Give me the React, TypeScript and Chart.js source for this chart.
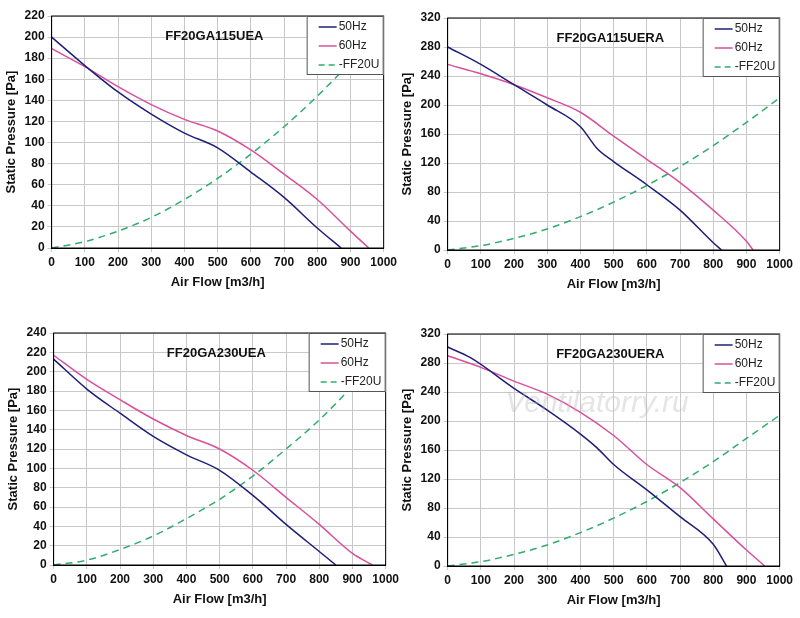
import React, { useEffect, useRef } from "react";
import { Chart, registerables } from "chart.js";
Chart.register(...registerables);

const flowTicks = [0, 100, 200, 300, 400, 500, 600, 700, 800, 900, 1000];
const legendLabels = ["50Hz", "60Hz", "-FF20U"];

const p1Title = "FF20GA115UEA";
const p1x50 = [0, 100, 200, 300, 400, 500, 600, 700, 800, 872];
const p1y50 = [200, 173, 148, 127, 109, 95, 72, 48, 19, 0];
const p1x60 = [0, 100, 200, 300, 400, 500, 600, 700, 800, 900, 955];
const p1y60 = [189, 172, 153, 136, 122, 111, 93, 70, 46, 16, 0];
const p1xU = [0, 100, 200, 300, 400, 500, 600, 700, 800, 900, 1000];
const p1yU = [0, 6, 16, 29, 46, 66, 89, 115, 144, 176, 211];

const p2Title = "FF20GA115UERA";
const p2x50 = [0, 100, 200, 300, 400, 450, 500, 600, 700, 800, 825];
const p2y50 = [280, 256, 228, 200, 170, 140, 122, 90, 55, 10, 0];
const p2x60 = [0, 100, 200, 300, 400, 500, 600, 700, 800, 900, 920];
const p2y60 = [256, 243, 228, 210, 190, 157, 125, 93, 55, 12, 0];
const p2xU = [0, 100, 200, 300, 400, 500, 600, 700, 800, 900, 1000];
const p2yU = [0, 6, 16, 29, 46, 66, 89, 115, 144, 176, 210];

const p3Title = "FF20GA230UEA";
const p3x50 = [0, 100, 200, 300, 400, 500, 600, 700, 800, 850];
const p3y50 = [213, 182, 157, 133, 114, 98, 72, 42, 14, 0];
const p3x60 = [0, 100, 200, 300, 400, 500, 600, 700, 800, 900, 960];
const p3y60 = [217, 192, 171, 151, 134, 120, 98, 70, 42, 12, 0];
const p3xU = [0, 100, 200, 300, 400, 500, 600, 700, 800, 900, 1000];
const p3yU = [0, 5, 16, 30, 48, 68, 92, 120, 150, 185, 222];

const p4Title = "FF20GA230UERA";
const p4x50 = [0, 70, 200, 300, 400, 450, 500, 600, 700, 800, 840];
const p4y50 = [302, 287, 245, 215, 182, 163, 140, 105, 68, 30, 0];
const p4x60 = [0, 100, 200, 300, 400, 500, 600, 700, 800, 900, 955];
const p4y60 = [290, 274, 255, 237, 212, 180, 140, 108, 65, 22, 0];
const p4xU = [0, 100, 200, 300, 400, 500, 600, 700, 800, 900, 1000];
const p4yU = [0, 6, 16, 29, 46, 66, 89, 115, 144, 176, 208];

const colors = ["#1f1f7a", "#d9509c", "#2fae6a"];
const FONT = "'Liberation Sans', Arial, sans-serif";

function pts(xs: number[], ys: number[]) {
  return xs.map((x, i) => ({ x, y: ys[i] }));
}

type PanelProps = {
  title: string; left: number; top: number; yMax: number; yStep: number;
  series: { x: number[]; y: number[] }[]; watermark?: boolean;
};

function Panel({ title, left, top, yMax, yStep, series, watermark }: PanelProps) {
  const ref = useRef<HTMLCanvasElement>(null);
  useEffect(() => {
    const overlay = {
      id: "overlay",
      afterDatasetsDraw(chart: any) {
        const { ctx, chartArea: a } = chart;
        ctx.save();
        ctx.strokeStyle = "#000";
        ctx.lineWidth = 1;
        ctx.strokeRect(a.left, a.top, a.right - a.left, a.bottom - a.top);
        ctx.fillStyle = "#111";
        ctx.font = `bold 13px ${FONT}`;
        ctx.textAlign = "center";
        ctx.textBaseline = "middle";
        ctx.fillText(title, a.left + (a.right - a.left) * 0.49, a.top + 20);
        const bw = 77, bh = 59;
        const bx = a.right - bw, by = a.top;
        ctx.fillStyle = "#fff";
        ctx.fillRect(bx, by, bw, bh);
        ctx.strokeStyle = "#555";
        ctx.strokeRect(bx + 0.5, by + 0.5, bw - 1, bh - 1);
        ctx.font = `12px ${FONT}`;
        ctx.textAlign = "left";
        legendLabels.forEach((l, i) => {
          const yy = by + 11 + i * 19;
          ctx.strokeStyle = colors[i];
          ctx.lineWidth = 1.5;
          ctx.setLineDash(i === 2 ? [6, 4] : []);
          ctx.beginPath();
          ctx.moveTo(bx + 12, yy);
          ctx.lineTo(bx + 30, yy);
          ctx.stroke();
          ctx.setLineDash([]);
          ctx.fillStyle = "#222";
          ctx.fillText(l, bx + 32, yy);
        });
        if (watermark) {
          ctx.font = `italic 30px ${FONT}`;
          ctx.fillStyle = "rgba(180,180,180,0.35)";
          ctx.textAlign = "center";
          ctx.fillText("Ventilatorry.ru", a.left + (a.right - a.left) * 0.45, a.top + 70);
        }
        ctx.restore();
      },
    };
    const chart = new Chart(ref.current!, {
      type: "line",
      data: {
        datasets: series.map((s, i) => ({
          label: legendLabels[i],
          data: pts(s.x, s.y),
          borderColor: colors[i],
          borderWidth: 1.5,
          borderDash: i === 2 ? [7, 5] : [],
          pointRadius: 0,
          cubicInterpolationMode: "monotone" as const,
          fill: false,
        })),
      },
      options: {
        animation: false,
        responsive: false,
        layout: { padding: { top: 16, right: 16, left: 0, bottom: 6 } },
        plugins: { legend: { display: false }, tooltip: { enabled: false } },
        scales: {
          x: {
            type: "linear", min: 0, max: 1000,
            afterBuildTicks: (ax: any) => { ax.ticks = flowTicks.map((v) => ({ value: v })); },
            grid: { color: "#c8c8c8", drawTicks: true, tickLength: 4 },
            border: { color: "#000" },
            ticks: { color: "#111", font: { family: FONT, size: 12, weight: "bold" }, maxRotation: 0, callback: (v: any) => String(v) },
            title: { display: true, text: "Air Flow [m3/h]", color: "#111", font: { family: FONT, size: 13, weight: "bold" }, padding: { top: 2 } },
          },
          y: {
            min: 0, max: yMax,
            ticks: { stepSize: yStep, color: "#111", font: { family: FONT, size: 12, weight: "bold" } },
            grid: { color: "#c8c8c8", tickLength: 4 },
            border: { color: "#000" },
            title: { display: true, text: "Static Pressure [Pa]", color: "#111", font: { family: FONT, size: 13, weight: "bold" }, padding: { bottom: 2 } },
          },
        },
      } as any,
      plugins: [overlay],
    });
    return () => chart.destroy();
  }, []);
  return (
    <canvas ref={ref} width={400} height={300}
      style={{ position: "absolute", left, top, width: 400, height: 300 }} />
  );
}

export default function App() {
  return (
    <div style={{ position: "fixed", left: 0, top: 0, width: 800, height: 618, background: "#fff" }}>
      <Panel title={p1Title} left={0} top={0} yMax={220} yStep={20}
        series={[{ x: p1x50, y: p1y50 }, { x: p1x60, y: p1y60 }, { x: p1xU, y: p1yU }]} />
      <Panel title={p2Title} left={396} top={2} yMax={320} yStep={40}
        series={[{ x: p2x50, y: p2y50 }, { x: p2x60, y: p2y60 }, { x: p2xU, y: p2yU }]} />
      <Panel title={p3Title} left={2} top={317} yMax={240} yStep={20}
        series={[{ x: p3x50, y: p3y50 }, { x: p3x60, y: p3y60 }, { x: p3xU, y: p3yU }]} />
      <Panel title={p4Title} left={396} top={318} yMax={320} yStep={40} watermark
        series={[{ x: p4x50, y: p4y50 }, { x: p4x60, y: p4y60 }, { x: p4xU, y: p4yU }]} />
    </div>
  );
}
